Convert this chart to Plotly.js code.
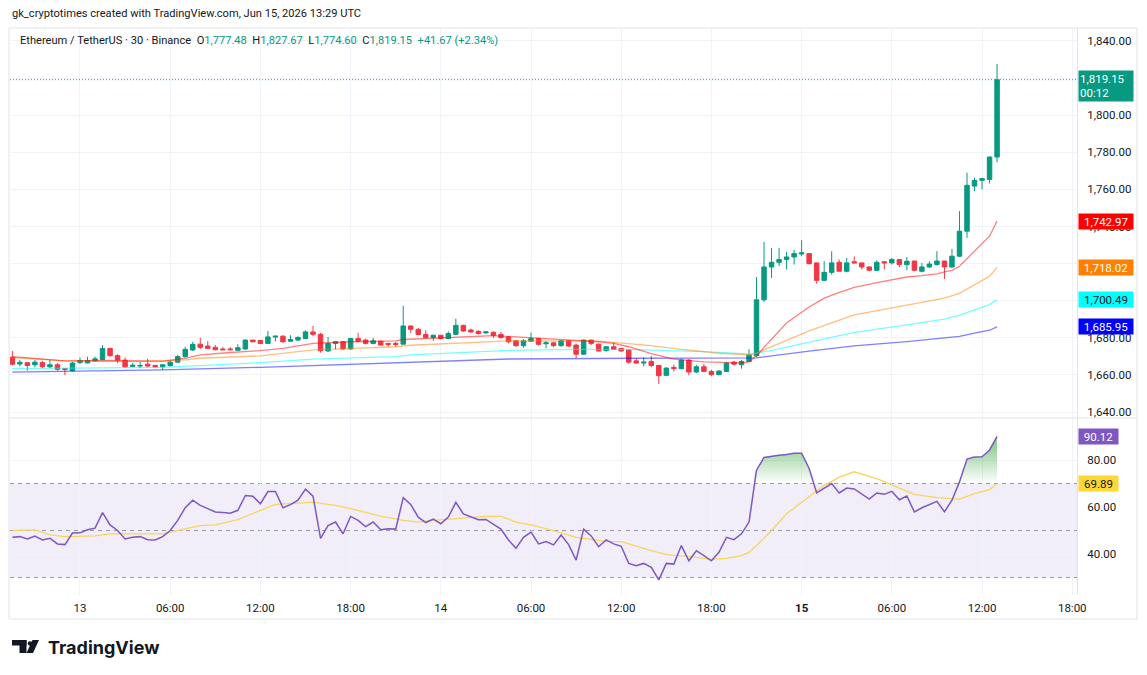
<!DOCTYPE html>
<html><head><meta charset="utf-8">
<script src="https://cdn.plot.ly/plotly-3.0.1.min.js"></script>
<style>html,body{margin:0;padding:0;background:#fff;}#chart{width:1147px;height:675px;}</style>
</head><body><div id="chart"></div>
<script>
// ---- data (30-minute bars, ETH/USDT, Binance) ----
const firstBarUTC = [2026, 5, 12, 19, 30];   // Jun 12 2026 19:30 UTC
const barMinutes = 30;

const opens = [1669.6,1665.9,1666.6,1665.5,1666.7,1664.4,1665.5,1663.4,1662.3,1666.7,
1666.5,1667.6,1668.3,1674.3,1670.4,1668.0,1664.6,1664.8,1665.8,1665.1,
1664.4,1665.1,1666.9,1669.9,1673.5,1676.6,1675.6,1674.9,1674.0,1674.0,
1673.3,1674.0,1678.8,1678.6,1677.0,1680.4,1680.9,1678.2,1678.8,1679.6,
1683.2,1681.9,1672.9,1677.0,1677.9,1674.0,1679.6,1678.8,1677.0,1678.2,
1677.0,1677.0,1676.6,1686.4,1684.6,1681.8,1680.2,1681.4,1679.6,1681.9,
1686.7,1684.2,1683.5,1682.7,1683.0,1681.8,1680.5,1678.4,1675.8,1678.2,
1679.6,1676.8,1677.3,1675.8,1678.4,1676.1,1671.2,1678.8,1676.6,1673.1,
1675.2,1674.3,1673.5,1667.6,1666.4,1667.3,1665.1,1659.8,1664.1,1663.4,
1668.0,1661.6,1664.4,1661.9,1660.2,1661.9,1666.9,1665.5,1667.3,1670.3,
1700.5,1718.2,1720.7,1722.2,1723.6,1725.2,1725.4,1720.4,1711.0,1715.3,
1720.7,1715.9,1721.0,1720.4,1718.2,1716.4,1721.0,1720.4,1722.2,1719.5,
1721.4,1715.9,1718.2,1719.5,1721.4,1718.2,1724.0,1737.5,1761.8,1764.9,
1765.4,1777.48];
const highs = [1672.9,1668.1,1667.0,1668.1,1667.6,1668.1,1666.4,1663.7,1667.0,1669.4,
1669.8,1669.9,1676.1,1674.7,1671.2,1669.4,1666.4,1667.0,1668.7,1665.5,
1665.8,1667.6,1670.8,1675.2,1677.9,1680.0,1678.2,1676.1,1675.0,1675.0,
1676.5,1679.1,1678.8,1678.8,1683.7,1681.0,1681.4,1681.4,1680.9,1684.1,
1686.4,1682.7,1680.5,1678.0,1678.2,1680.0,1682.7,1679.6,1680.0,1678.4,
1677.3,1677.9,1697.3,1686.7,1685.3,1684.1,1681.8,1681.5,1683.5,1690.3,
1687.1,1685.0,1684.1,1683.5,1683.5,1683.2,1681.1,1678.8,1679.3,1682.8,
1680.0,1678.2,1677.9,1678.8,1678.8,1677.0,1679.1,1678.9,1677.0,1675.6,
1677.5,1674.7,1673.8,1669.0,1669.4,1670.3,1665.5,1664.1,1665.5,1668.7,
1668.5,1665.5,1665.8,1662.8,1662.5,1666.9,1667.6,1668.1,1673.8,1712.8,
1731.7,1728.5,1728.5,1726.3,1727.5,1732.6,1725.8,1720.4,1721.3,1726.7,
1722.2,1723.1,1723.9,1720.4,1718.6,1721.8,1721.3,1723.1,1722.5,1723.6,
1721.4,1720.4,1721.3,1726.7,1721.4,1727.9,1748.3,1769.0,1766.3,1766.3,
1777.7,1827.67];
const lows = [1665.1,1664.6,1662.3,1664.1,1663.7,1663.7,1662.3,1659.8,1661.9,1665.8,
1666.2,1667.3,1668.0,1669.9,1666.4,1663.7,1664.4,1663.7,1664.1,1664.1,
1662.7,1664.4,1666.5,1669.4,1672.9,1674.0,1674.0,1673.3,1673.3,1673.3,
1672.9,1673.6,1677.5,1676.6,1676.6,1678.2,1677.3,1677.9,1678.4,1679.3,
1680.9,1672.0,1672.6,1673.8,1673.5,1673.6,1677.9,1676.5,1676.5,1676.0,
1675.2,1675.2,1676.5,1682.7,1681.4,1679.6,1678.4,1679.3,1679.3,1681.4,
1683.2,1682.7,1681.8,1682.1,1680.0,1679.6,1677.0,1675.2,1674.7,1677.9,
1675.8,1674.3,1675.0,1675.2,1675.2,1669.0,1670.8,1676.1,1672.6,1672.6,
1673.5,1672.6,1666.0,1666.0,1664.6,1664.2,1655.2,1659.3,1661.9,1663.0,
1659.8,1661.1,1661.6,1659.3,1659.8,1661.6,1665.1,1663.4,1666.9,1669.9,
1699.3,1712.3,1718.6,1716.8,1719.5,1724.0,1719.5,1709.2,1710.5,1714.0,
1715.9,1715.3,1720.0,1716.8,1715.9,1715.9,1716.8,1719.5,1718.2,1716.4,
1715.9,1715.3,1717.7,1719.0,1711.7,1717.7,1723.6,1733.9,1759.1,1760.0,
1763.2,1774.60];
const closes = [1665.8,1666.8,1665.1,1666.9,1664.4,1665.5,1663.0,1663.0,1666.4,1667.8,
1667.8,1668.7,1674.3,1670.4,1668.0,1664.4,1665.2,1665.1,1664.8,1664.4,
1665.5,1666.9,1669.9,1673.8,1676.5,1674.9,1674.3,1673.6,1673.6,1673.6,
1674.7,1678.8,1677.9,1677.0,1680.5,1680.9,1677.9,1679.1,1680.2,1683.2,
1681.9,1673.1,1677.0,1677.9,1674.0,1679.6,1678.2,1677.0,1678.4,1676.1,
1676.5,1676.5,1686.4,1684.6,1681.8,1680.2,1681.4,1679.6,1682.3,1686.7,
1683.7,1683.2,1682.3,1683.2,1681.4,1680.2,1677.9,1675.8,1678.4,1679.6,
1676.5,1677.3,1675.8,1678.4,1675.6,1671.2,1678.8,1677.0,1672.9,1675.2,
1673.8,1672.9,1666.9,1666.4,1666.9,1665.1,1659.6,1663.7,1663.4,1668.0,
1661.6,1664.4,1661.9,1660.2,1662.1,1666.4,1665.8,1667.3,1670.8,1700.5,
1718.2,1720.7,1722.2,1723.6,1725.4,1725.8,1720.0,1711.0,1715.3,1720.4,
1715.9,1720.4,1720.4,1718.2,1716.4,1720.7,1720.4,1722.2,1719.5,1721.3,
1716.4,1718.2,1719.8,1721.4,1718.2,1724.0,1737.5,1762.2,1764.9,1765.8,
1777.48,1819.15];

// moving averages (bar index -> value)
const maRedIdx = [0,7,13,20,23,25,29,33,36,40,45,51,52,58,64,71,78,80,82,85,88,92,95,97,98,99,101,103,106,108,110,112,115,117,119,121,123,124,125,126,127,128,129,130,131];
const maRedVal = [1669.9,1667.6,1667.8,1667.3,1669.0,1670.8,1672.1,1673.1,1674.3,1677.0,1677.9,1678.4,1679.1,1680.3,1681.2,1679.6,1677.9,1677.0,1675.2,1671.5,1668.5,1667.0,1666.5,1666.5,1667.0,1670.4,1679.3,1688.0,1696.6,1701.4,1704.5,1707.2,1709.8,1711.4,1712.8,1713.5,1714.5,1715.5,1716.4,1718.6,1722.6,1726.8,1730.5,1734.8,1742.97];
const maOrangeIdx = [0,7,16,23,25,33,40,51,53,66,78,85,89,94,98,99,101,106,112,119,124,126,128,130,131];
const maOrangeVal = [1669.4,1667.6,1667.3,1668.1,1669.0,1670.3,1673.5,1675.2,1676.0,1678.4,1678.2,1675.8,1673.8,1671.7,1670.8,1671.8,1675.3,1683.8,1692.4,1697.8,1701.4,1704.0,1708.6,1713.2,1718.02];
const maCyanIdx = [0,10,20,33,40,51,53,66,75,83,92,98,99,101,106,112,119,124,126,128,130,131];
const maCyanVal = [1663.4,1663.7,1664.1,1666.6,1668.5,1669.9,1670.8,1673.3,1673.8,1673.7,1672.6,1671.3,1671.7,1673.3,1677.8,1682.9,1687.0,1690.1,1692.3,1695.2,1697.9,1700.49];
const maBlueIdx = [0,20,33,51,66,83,98,99,106,112,119,124,126,128,130,131];
const maBlueVal = [1661.5,1662.7,1664.1,1666.4,1668.6,1669.0,1669.0,1669.2,1672.8,1675.7,1678.0,1679.8,1680.8,1682.6,1684.1,1685.95];

// RSI (14) per bar and its moving average (sampled)
const rsi = [47.1,47.4,46.4,47.6,46.0,46.7,44.3,44.0,48.9,49.0,
50.3,51.0,57.6,52.4,50.0,46.4,47.1,47.4,46.1,46.0,
47.4,50.0,54.3,59.7,62.9,60.7,59.3,57.9,57.7,57.4,
58.6,64.9,64.6,61.4,66.6,66.6,59.7,61.0,62.9,67.6,
64.6,46.7,52.1,53.6,48.6,56.0,54.3,51.7,53.6,50.3,
50.7,50.6,64.0,61.1,55.7,53.4,54.9,52.9,55.7,62.0,
57.1,55.7,54.6,54.7,52.6,50.6,46.0,42.4,47.1,49.3,
44.3,45.3,43.9,48.1,44.0,37.4,50.6,47.7,43.1,46.0,
44.3,43.3,36.0,35.0,36.0,34.3,29.0,36.0,35.7,43.6,
37.1,41.4,39.3,37.1,40.7,47.1,46.1,48.6,53.6,75.7,
81.1,81.7,82.0,82.4,82.9,82.9,76.4,66.0,67.9,70.0,
66.0,68.1,67.7,65.4,63.4,66.0,65.4,66.7,63.1,64.7,
57.9,59.7,61.1,62.4,58.0,62.9,70.7,80.4,81.3,81.4,
84.3,90.12];
const rsiMaIdx = [0,3,5,7,11,13,16,20,23,25,27,30,33,35,38,40,42,43,45,47,49,52,54,56,59,63,65,67,69,72,75,79,81,83,85,87,90,93,95,97,98,99,101,103,106,108,110,112,115,117,120,123,126,128,130,131];
const rsiMaVal = [50.0,50.3,48.1,47.4,47.7,48.6,48.6,48.6,50.7,52.1,52.4,54.6,58.6,61.1,61.7,62.1,61.1,60.7,59.3,57.8,56.1,54.3,53.6,54.3,55.0,56.0,56.0,53.6,52.4,50.0,47.1,45.4,45.3,43.3,41.4,39.7,39.0,37.7,38.1,39.3,40.7,43.6,50.0,57.1,64.6,69.3,72.6,75.0,72.1,69.3,65.4,64.0,63.4,65.7,67.4,69.89];

// axis ticks
const timeTickVals = ['2026-06-13 00:00','2026-06-13 06:00','2026-06-13 12:00','2026-06-13 18:00',
  '2026-06-14 00:00','2026-06-14 06:00','2026-06-14 12:00','2026-06-14 18:00',
  '2026-06-15 00:00','2026-06-15 06:00','2026-06-15 12:00','2026-06-15 18:00'];
const timeTickText = ['13','06:00','12:00','18:00','14','06:00','12:00','18:00','<b>15</b>','06:00','12:00','18:00'];
const rsiTickVals = [40,60,80];
const rsiTickText = ['40.00','60.00','80.00'];
const rsiLevels = [30,50,70];

// ---- helpers ----
function barTime(i){
  const t = Date.UTC(firstBarUTC[0],firstBarUTC[1],firstBarUTC[2],firstBarUTC[3],firstBarUTC[4]) + i*barMinutes*60000;
  return new Date(t).toISOString().slice(0,19).replace('T',' ');
}
const fmt = v => v.toLocaleString('en-US',{minimumFractionDigits:2, maximumFractionDigits:2});
const times = opens.map((_,i)=>barTime(i));
const last = opens.length-1;

// pixel layout
const W=1147, H=675, L=10, R=1077, T=28, B=595, SPLIT=418;
const px = x => (x-L)/(R-L);
const py = y => (B-y)/(B-T);

const GREEN='#089981', RED='#F23645';

const traces = [];
// MA lines
const maDefs = [
  [maBlueIdx, maBlueVal, 'rgba(0,0,255,0.5)'],
  [maCyanIdx, maCyanVal, 'rgba(0,255,255,0.55)'],
  [maOrangeIdx, maOrangeVal, 'rgba(255,128,0,0.5)'],
  [maRedIdx, maRedVal, 'rgba(255,0,0,0.5)'],
];
maDefs.forEach(([idx,val,col])=>{
  traces.push({type:'scatter', mode:'lines', x:idx.map(barTime), y:val, xaxis:'x', yaxis:'y',
    line:{color:col, width:1.3}, hoverinfo:'skip'});
});
traces.push({type:'candlestick', x:times, open:opens, high:highs, low:lows, close:closes,
  xaxis:'x', yaxis:'y', whiskerwidth:0,
  increasing:{line:{color:GREEN,width:1}, fillcolor:GREEN},
  decreasing:{line:{color:RED,width:1}, fillcolor:RED}, hoverinfo:'skip'});

// RSI fill above 70
traces.push({type:'scatter', mode:'lines', x:times, y:times.map(()=>70), xaxis:'x', yaxis:'y2',
  line:{width:0, color:'rgba(0,0,0,0)'}, hoverinfo:'skip'});
traces.push({type:'scatter', mode:'lines', x:times, y:rsi.map(v=>Math.max(v,70)), xaxis:'x', yaxis:'y2',
  line:{width:0, color:'rgba(0,0,0,0)'}, fill:'tonexty',
  fillgradient:{type:'vertical', start:70, stop:86,
    colorscale:[[0,'rgba(76,175,80,0.0)'],[1,'rgba(76,175,80,0.6)']]},
  hoverinfo:'skip'});
traces.push({type:'scatter', mode:'lines', x:rsiMaIdx.map(barTime), y:rsiMaVal, xaxis:'x', yaxis:'y2',
  line:{color:'#F8D45C', width:1.3}, hoverinfo:'skip'});
traces.push({type:'scatter', mode:'lines', x:times, y:rsi, xaxis:'x', yaxis:'y2',
  line:{color:'#7E57C2', width:1.5}, hoverinfo:'skip'});

const shapes = [
  {type:'rect', xref:'paper', yref:'y2', x0:0, x1:1, y0:30, y1:70, fillcolor:'rgba(126,87,194,0.1)', line:{width:0}, layer:'below'},
  ...rsiLevels.map(v=>({type:'line', xref:'paper', yref:'y2', x0:0, x1:1, y0:v, y1:v, line:{color:'#9598A1', width:1, dash:'4px,4px'}, layer:'below'})),
  {type:'line', xref:'paper', yref:'y', x0:0, x1:1, y0:closes[last], y1:closes[last], line:{color:'#22AB94', width:1, dash:'1px,2px'}},
  {type:'line', xref:'paper', yref:'paper', x0:px(L), x1:px(1137), y0:py(SPLIT), y1:py(SPLIT), line:{color:'#E0E3EB', width:1}},
  {type:'rect', xref:'paper', yref:'paper', x0:px(9), x1:px(1137), y0:py(619), y1:py(28), line:{color:'#E0E3EB', width:1}},
  // TradingView logo icon
  {type:'rect', xref:'paper', yref:'paper', x0:px(12), x1:px(26.5), y0:py(645.5), y1:py(640), fillcolor:'#131722', line:{width:0}},
  {type:'rect', xref:'paper', yref:'paper', x0:px(19.5), x1:px(26.5), y0:py(653), y1:py(640), fillcolor:'#131722', line:{width:0}},
  {type:'circle', xref:'paper', yref:'paper', x0:px(27.8), x1:px(32.2), y0:py(645.7), y1:py(641.3), fillcolor:'#131722', line:{width:0}},
  {type:'path', xref:'paper', yref:'paper', path:`M ${px(32.5)} ${py(640)} L ${px(39)} ${py(640)} L ${px(33)} ${py(653)} L ${px(26.5)} ${py(653)} Z`, fillcolor:'#131722', line:{width:0}},
];

const g = s => `<span style="color:${GREEN}">${s}</span>`;
const chg = closes[last]-opens[last];
const header2 = `Ethereum / TetherUS · 30 · Binance&nbsp;&nbsp;O${g(fmt(opens[last]))}&nbsp;&nbsp;H${g(fmt(highs[last]))}&nbsp;&nbsp;L${g(fmt(lows[last]))}&nbsp;&nbsp;C${g(fmt(closes[last]))}&nbsp;&nbsp;${g('+'+fmt(chg)+' (+'+(chg/opens[last]*100).toFixed(2)+'%)')}`;

function priceBox(val, bg, fg, yref, w){
  return {xref:'paper', yref:yref, x:1, y:val, xanchor:'left', yanchor:'middle', xshift:1,
    text:fmt(val), showarrow:false, bgcolor:bg, font:{color:fg, size:11.5}, width:w, height:13, borderpad:1, align:'center'};
}
const annotations = [
  {xref:'paper', yref:'paper', x:px(10), y:py(14), xanchor:'left', yanchor:'middle', showarrow:false,
    text:'gk_cryptotimes created with TradingView.com, Jun 15, 2026 13:29 UTC', font:{size:11.1, color:'#131722'}},
  {xref:'paper', yref:'paper', x:px(18), y:py(40), xanchor:'left', yanchor:'middle', showarrow:false,
    text:header2, font:{size:11.1, color:'#131722'}},
  {xref:'paper', yref:'y', x:1, y:closes[last], xanchor:'left', yanchor:'top', xshift:1, yshift:10,
    text:fmt(closes[last])+'<br>00:12', showarrow:false, bgcolor:GREEN, font:{color:'#fff', size:11.5},
    width:52, height:28, borderpad:1, align:'left'},
  priceBox(maRedVal[maRedVal.length-1], '#FF0000', '#fff', 'y', 52),
  priceBox(maOrangeVal[maOrangeVal.length-1], '#FF8000', '#fff', 'y', 52),
  priceBox(maCyanVal[maCyanVal.length-1], '#00FFFF', '#131722', 'y', 52),
  priceBox(maBlueVal[maBlueVal.length-1], '#0000FF', '#fff', 'y', 52),
  priceBox(rsi[last], '#7E57C2', '#fff', 'y2', 37),
  priceBox(rsiMaVal[rsiMaVal.length-1], '#FDD835', '#131722', 'y2', 37),
  {xref:'paper', yref:'paper', x:px(46), y:py(647), xanchor:'left', yanchor:'middle', showarrow:false,
    text:'<b>TradingView</b>', font:{size:18, color:'#131722', family:'Inter, Roboto, sans-serif'}},
];

const layout = {
  width:W, height:H, margin:{l:L, r:W-R, t:T, b:H-B, pad:0},
  paper_bgcolor:'#ffffff', plot_bgcolor:'#ffffff', showlegend:false, hovermode:false,
  boxgap:0.15,
  font:{family:'Roboto, "Open Sans", sans-serif', size:11.5, color:'#131722'},
  xaxis:{type:'date', anchor:'y2', range:['2026-06-12 19:20:40','2026-06-15 18:19:00'],
    tickmode:'array', tickvals:timeTickVals, ticktext:timeTickText, tickfont:{size:11.5, color:'#131722'},
    showgrid:true, gridcolor:'#F0F3FA', zeroline:false, showline:false, ticks:'outside', ticklen:2, tickcolor:'rgba(0,0,0,0)', rangeslider:{visible:false}, fixedrange:true},
  yaxis:{domain:[py(SPLIT),1], side:'right', range:[1636.8,1847.0], tick0:1640, dtick:20, tickformat:',.2f',
    showgrid:true, gridcolor:'#F0F3FA', zeroline:false, showline:true, linecolor:'#E0E3EB',
    ticks:'outside', ticklen:7, tickcolor:'rgba(0,0,0,0)', fixedrange:true},
  yaxis2:{domain:[0,py(SPLIT)], side:'right', range:[22.55,97.9], tickmode:'array', tickvals:rsiTickVals, ticktext:rsiTickText,
    showgrid:true, gridcolor:'#F0F3FA', zeroline:false, showline:true, linecolor:'#E0E3EB',
    ticks:'outside', ticklen:7, tickcolor:'rgba(0,0,0,0)', fixedrange:true},
  shapes, annotations
};
Plotly.newPlot('chart', traces, layout, {displayModeBar:false, staticPlot:true});
</script></body></html>
